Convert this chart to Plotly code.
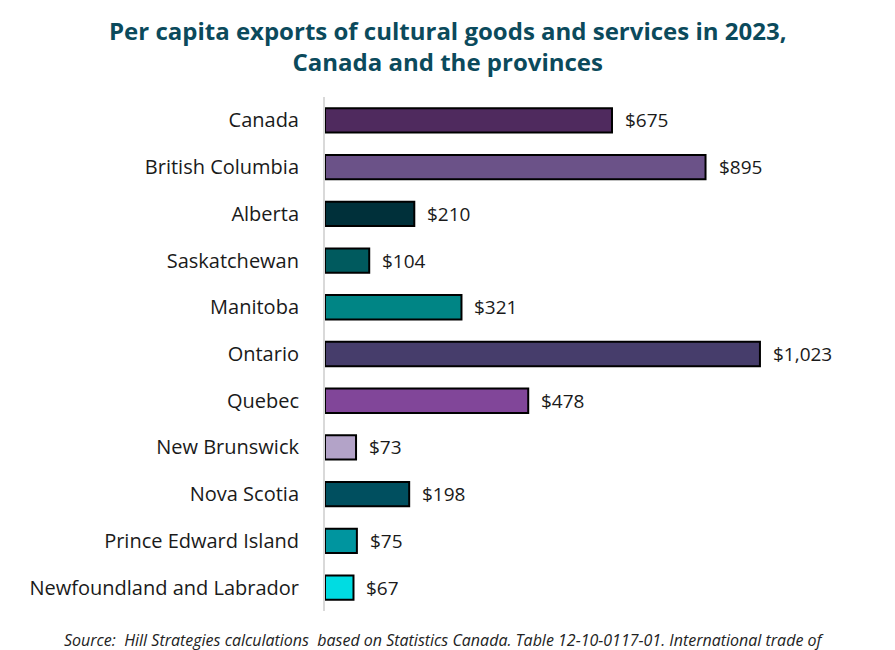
import plotly.graph_objects as go

categories = ["Canada", "British Columbia", "Alberta", "Saskatchewan", "Manitoba",
              "Ontario", "Quebec", "New Brunswick", "Nova Scotia",
              "Prince Edward Island", "Newfoundland and Labrador"]
values = [675, 895, 210, 104, 321, 1023, 478, 73, 198, 75, 67]
colors = ["#4F2A5E", "#6B5288", "#00303A", "#005A5E", "#008585", "#463D6B",
          "#814699", "#B3A3C8", "#004F5F", "#00959F", "#00DCE2"]
labels = ["$" + format(v, ",") for v in values]

L, R, T, B = 325, 70, 97, 39
W, H = 895, 650
PW, PH = W - L - R, H - T - B

fig = go.Figure()
fig.add_trace(go.Bar(
    y=categories, x=values, orientation="h",
    marker=dict(color=colors, line=dict(color="#000000", width=2)),
    width=0.52, hoverinfo="skip",
))
for c, v, t in zip(categories, values, labels):
    fig.add_annotation(x=v, y=c, text=t, showarrow=False, xanchor="left",
                       xshift=11, font=dict(family="Open Sans", size=19, color="#1a1a1a"))

fig.add_annotation(xref="paper", yref="paper", x=(447.5 - L) / PW, y=1 + (T - 46) / PH,
                   xanchor="center", yanchor="middle",
                   text="<b>Per capita exports of cultural goods and services in 2023,<br>Canada and the provinces</b>",
                   showarrow=False, font=dict(family="Open Sans", size=24, color="#0B4A5C"))

fig.add_annotation(xref="paper", yref="paper", x=(62 - L) / PW, y=-(640 - (H - B)) / PH,
                   xanchor="left", yanchor="middle",
                   text="<i>Source:  Hill Strategies calculations  based on Statistics Canada. Table 12-10-0117-01. International trade of</i>",
                   showarrow=False, font=dict(family="Open Sans", size=16, color="#222222"))

fig.update_layout(
    width=W, height=H,
    margin=dict(l=L, r=R, t=T, b=B),
    plot_bgcolor="white", paper_bgcolor="white",
    showlegend=False,
    xaxis=dict(range=[0, 1176], visible=False, fixedrange=True),
    yaxis=dict(categoryorder="array", categoryarray=categories[::-1],
               showline=True, linecolor="#D9D9D9", linewidth=2,
               showgrid=False, ticks="", ticklabelstandoff=20,
               tickfont=dict(family="Open Sans", size=20, color="#1a1a1a")),
)
fig.write_html("out.html")
